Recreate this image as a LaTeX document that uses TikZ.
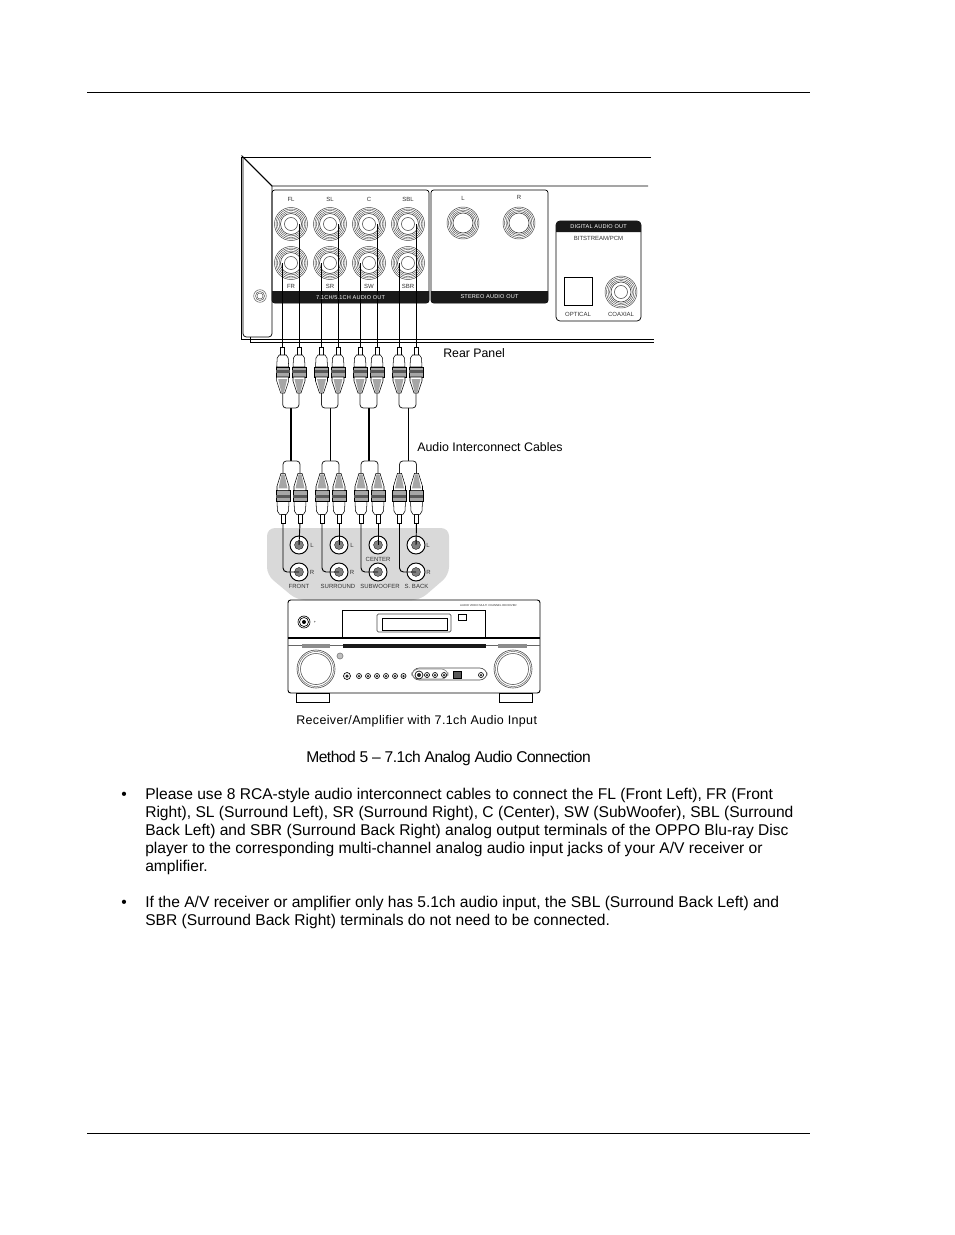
\documentclass[tikz,border=0pt]{standalone}
\usepackage{fontspec}
\setmainfont{Liberation Sans}
\newfontfamily\spaced[LetterSpace=3]{Liberation Sans}
\newfontfamily\tight[LetterSpace=-3.2]{Liberation Sans}
\newfontfamily\wider[LetterSpace=3]{Liberation Sans}
\tikzset{
  thin line/.style={line width=.55pt,draw=black},
  cab/.style={line width=.6pt,draw=black!85,rounded corners=2.5pt},
  lbl/.style={inner sep=0pt,anchor=base west,text=black},
  tiny/.style={inner sep=0pt,anchor=base,font=\fontsize{4.5}{5}\selectfont,text=black!80},
  tinyw/.style={inner sep=0pt,font=\wider\fontsize{4.2}{5}\selectfont,text=white},
  recv/.style={line width=.5pt,draw=black},
  body/.style={inner sep=0pt,anchor=base west,font=\fontsize{11.7}{13}\selectfont,text=black},
  pt/.style={inner sep=0pt,minimum size=0pt}
}
\newcommand{\bigjack}[3]{%
  \node[pt,circle,draw=none,minimum size=24.75pt] (#3) at (#1,#2) {};
  \foreach \r/\w in {16.5/.35,15/.3,13.5/.3,12/.3,10.5/.45,6.5/.4}
    \draw[line width=\w pt,black!75] (#1,#2) circle[radius=\r];}
\newcommand{\plugshape}{%
  \draw[line width=.4pt,fill=white] (-2,0) rectangle (2,8);
  \draw[line width=.4pt,fill=white] (-3.5,8) -- (-5.5,11) -- (-6,20) -- (6,20) -- (5.5,11) -- (3.5,8) -- cycle;
  \draw[line width=.4pt,fill=black!35] (-6.8,20) rectangle (6.8,30);
  \fill[black!65] (-6.8,23) rectangle (6.8,26);
  \draw[line width=.4pt,fill=white] (-6,30) -- (-6,34) -- (-2,46) -- (2,46) -- (6,34) -- (6,30) -- cycle;
  \fill[black!35] (-4.5,32) -- (-1.5,45) -- (1.5,45) -- (4.5,32) -- cycle;
}
\newcommand{\smallbtn}[3]{\draw[recv,fill=white] (#1,#2) circle[radius=#3]; \fill[black!85] (#1,#2) circle[radius=#3*.5];}
\begin{document}
\begin{tikzpicture}[x=.75pt,y=-.75pt]
\useasboundingbox (0,0) rectangle (954,1235);
\fill[white] (0,0) rectangle (954,1235);
% page rules
\coordinate (ruleTopL) at (87,92.7); \coordinate (ruleTopR) at (810,92.7);
\coordinate (ruleBotL) at (87,1133); \coordinate (ruleBotR) at (810,1133);
\draw[line width=.75pt] (ruleTopL) -- (ruleTopR);
\draw[line width=.75pt] (ruleBotL) -- (ruleBotR);
% player chassis
\draw[thin line] (651,157) -- (241,157) -- (241,339) -- (654,339);
\draw[thin line] (250,342) -- (654,342);
\draw[thin line] (243,157) -- (272,186) -- (648,186);
\draw[thin line] (241.5,155.5) -- (272,186);
\draw[thin line,rounded corners=2.5pt] (243,157) -- (243,337) -- (272,337) -- (272,186);
\draw[thin line] (250,337) -- (250,342);
% screw
\foreach \r in {6.3,4.5,3}\draw[line width=.35pt,black!70] (260,296) circle[radius=\r];
% group boxes
\draw[thin line,rounded corners=2pt] (272,190) rectangle (429,303);
\fill[black!90] (272,291) [rounded corners=2pt] -- (272,303) -- (429,303) [sharp corners] -- (429,291) -- cycle;
\draw[thin line,rounded corners=2pt] (431,190) rectangle (548,303);
\fill[black!90] (431,291) [rounded corners=2pt] -- (431,303) -- (548,303) [sharp corners] -- (548,291) -- cycle;
\draw[thin line,rounded corners=3pt] (556,221) rectangle (641,321);
\fill[black!90] (556,232) [rounded corners=3pt] -- (556,221) -- (641,221) [sharp corners] -- (641,232) -- cycle;
\node[tinyw] (tst) at (489.5,297) {STEREO AUDIO OUT};
\node[tinyw] (tdg) at (598.5,226.5) {DIGITAL AUDIO OUT};
\node[tiny] (tbs) at (598.5,240) {BITSTREAM/PCM};
\node[tiny] (tfl) at (291,201) {FL};
\node[tiny] (tsl) at (330,201) {SL};
\node[tiny] (tc)  at (369,201) {C};
\node[tiny] (tsbl) at (408,201) {SBL};
\node[tiny] (tfr) at (291,288) {FR};
\node[tiny] (tsr) at (330,288) {SR};
\node[tiny] (tsw) at (369,288) {SW};
\node[tiny] (tsbr) at (408,288) {SBR};
\node[tiny] (tsl2) at (463,200) {L};
\node[tiny] (tsr2) at (519,199) {R};
\node[tiny] (topt) at (578,316.5) {OPTICAL};
\node[tiny] (tcox) at (621,316.5) {COAXIAL};
% jacks on the player
\bigjack{291}{224}{oFL}\bigjack{330}{224}{oSL}\bigjack{369}{224}{oC}\bigjack{408}{224}{oSBL}
\bigjack{291}{263}{oFR}\bigjack{330}{263}{oSR}\bigjack{369}{263}{oSW}\bigjack{408}{263}{oSBR}
\foreach \x/\n in {463/oL,519/oR}{
  \foreach \r/\w in {16/.35,14.5/.3,13/.3,11.5/.35,10/.45}
    \draw[line width=\w pt,black!75] (\x,223) circle[radius=\r];
}
\draw[line width=.7pt] (564,277) rectangle (592,305);
\foreach \r/\w in {16/.35,14.5/.3,13/.3,11.5/.3,10/.45,6.5/.4}
  \draw[line width=\w pt,black!75] (621,292) circle[radius=\r];
% grey input panel
\fill[black!15,rounded corners=6pt] (267,575) -- (267,528) -- (449,528) -- (449,575) -- (420,600) -- (297,600) -- cycle;
% plugs, upper
\foreach \x/\n in {282.7/a,299/b,321.5/c,338/d,360/e,377/f,399/g,416/h}{
  \begin{scope}[shift={(\x,347)}]\plugshape\end{scope}
  \coordinate (up\n) at (\x,347);
  \coordinate (ut\n) at (\x,393);
}
% plugs, lower
\foreach \x/\n in {283/a,300/b,322/c,339/d,361/e,378/f,399.5/g,416.5/h}{
  \begin{scope}[shift={(\x,523)},yscale=-1.08]\plugshape\end{scope}
  \coordinate (lp\n) at (\x,523);
  \coordinate (lt\n) at (\x,473.5);
}
% wires from jacks to upper plugs
\coordinate (oFRw) at (282.7,263); \coordinate (oFLw) at (299,224);
\coordinate (oSRw) at (321.5,263); \coordinate (oSLw) at (338,224);
\coordinate (oSWw) at (360,263);   \coordinate (oCw) at (377,224);
\coordinate (oSBRw) at (399,263);  \coordinate (oSBLw) at (416,224);
\foreach \s/\e in {oFRw/upa,oFLw/upb,oSRw/upc,oSLw/upd,oSWw/upe,oCw/upf,oSBRw/upg,oSBLw/uph}
  \draw[line width=.7pt] (\s) -- (\e);
\node[tinyw] (t71) at (350.5,297) {7.1CH/5.1CH AUDIO OUT};
% cables
\foreach \xa/\l/\r/\w in {291/a/b/1.3,330/c/d/.65,369/e/f/1.1,408/g/h/.65}{
  \coordinate (jt\l) at (\xa,408);
  \coordinate (jb\l) at (\xa,461);
  \draw[line width=\w pt] (jt\l) -- (jb\l);
  \draw[cab] (ut\l) |- (jt\l) -| (ut\r);
  \draw[cab] (lt\l) |- (jb\l) -| (lt\r);
}
% input jacks
\foreach \x/\n in {299/iFL,339/iSL,378/iC,416/iSBL}{
  \node[pt,circle,minimum size=13.5pt] (\n) at (\x,545) {};
  \draw[line width=.7pt,fill=white] (\x,545) circle[radius=9];
  \draw[line width=.2pt,fill=black!50] (\x,545) circle[radius=4.5];
}
\foreach \x/\n in {299/iFR,339/iSR,378/iSW,416/iSBR}{
  \node[pt,circle,minimum size=13.5pt] (\n) at (\x,572) {};
  \draw[line width=.7pt,fill=white] (\x,572) circle[radius=9];
  \draw[line width=.2pt,fill=black!50] (\x,572) circle[radius=4.5];
}
% wires into receiver inputs
\foreach \p/\q in {lpb/iFL,lpd/iSL,lpf/iC,lph/iSBL}
  \draw[line width=.7pt] (\p) -- (\q.center);
\foreach \p/\q in {lpa/iFR,lpc/iSR,lpe/iSW,lpg/iSBR}
  \draw[line width=.7pt,rounded corners=3pt] (\p) |- (\q.center);
\node[tiny] (lL1) at (312,547) {L};
\node[tiny] (lL2) at (352,547) {L};
\node[tiny] (lL3) at (428,547) {L};
\node[tiny] (lR1) at (312,574.5) {R};
\node[tiny] (lR2) at (352,574.5) {R};
\node[tiny] (lR3) at (428.5,574.5) {R};
\node[tiny] (lcen) at (378,561) {CENTER};
\node[tiny] (lfr) at (299,588.5) {FRONT};
\node[tiny] (lsur) at (338,588.5) {SURROUND};
\node[tiny] (lsub) at (380,588.5) {SUBWOOFER};
\node[tiny] (lsb) at (416.5,588.5) {S. BACK};
% receiver
\draw[recv,line width=.7pt,rounded corners=2pt] (288,600) rectangle (540,693);
\draw[recv] (342,637) -- (342,610) -- (485,610) -- (485,637);
\draw[recv,rounded corners=1pt,black!70] (377,614) rectangle (451,632);
\draw[recv,line width=.6pt] (382,618) rectangle (447,630);
\draw[recv] (458,614) rectangle (466,620.5);
\draw[line width=1.5pt] (288,637.5) -- (540,637.5);
\draw[recv,black!60] (288,645.5) -- (540,645.5);
\fill[black!45] (302,644) rectangle (330,647.5);
\fill[black!45] (498,644) rectangle (527,647.5);
\fill[black!90] (343,643.5) rectangle (486,647.5);
\foreach \r in {6,4.5}\draw[recv] (304,622) circle[radius=\r];
\fill (304,622) circle[radius=2];
\node[inner sep=0pt,font=\fontsize{2.8}{3}\selectfont] (plus) at (315,622) {+};
\node[inner sep=0pt,anchor=east,font=\fontsize{2.1}{3}\selectfont,text=black!80] (rtit) at (517,606) {AUDIO VIDEO MULTI CHANNEL RECEIVER};
\foreach \x in {316,513}{
  \foreach \r/\w in {19/.45,17.5/.3,15.5/.4}\draw[line width=\w pt,black!70] (\x,669) circle[radius=\r];
}
\draw[recv,black!50,fill=black!25] (340,656) circle[radius=3];
\smallbtn{347}{676}{3.5}
\foreach \x in {359,368,377,386,395,403.5}{\smallbtn{\x}{676}{2.5}}
\draw[recv,black!70,rounded corners=5.5pt] (412,668) rectangle (487,680);
\draw[recv,black!45,rounded corners=5pt] (412,669) rectangle (448,679);
\smallbtn{419}{675}{4}
\smallbtn{435}{675}{2.5}
\smallbtn{427}{675}{2.5}
\smallbtn{444}{675}{2.5}
\smallbtn{481}{675}{2.5}
\draw[recv,fill=black!65] (453,671.5) rectangle (461,678);
\draw[recv,line width=.6pt] (296,693) rectangle (329,702);
\draw[recv,line width=.6pt] (499,693) rectangle (532,702);
% texts
\node[lbl,font=\fontsize{9.25}{12}\selectfont] (rp) at (443,357) {Rear Panel};
\node[lbl,font=\fontsize{9.3}{12}\selectfont] (aic) at (417,451) {Audio Interconnect Cables};
\node[lbl,font=\spaced\fontsize{9.35}{12}\selectfont] (rec) at (296,724.5) {Receiver/Amplifier with 7.1ch Audio Input};
\node[lbl,font=\tight\fontsize{11.7}{13}\selectfont] (cp) at (306,762) {Method 5 – 7.1ch Analog Audio Connection};
\node[body] (b1) at (121,799.5) {•};
\node[body] (l1) at (145,799.5) {Please use 8 RCA-style audio interconnect cables to connect the FL (Front Left), FR (Front};
\node[body] (l2) at (145,817.5) {Right), SL (Surround Left), SR (Surround Right), C (Center), SW (SubWoofer), SBL (Surround};
\node[body] (l3) at (145,835.5) {Back Left) and SBR (Surround Back Right) analog output terminals of the OPPO Blu-ray Disc};
\node[body] (l4) at (145,853.5) {player to the corresponding multi-channel analog audio input jacks of your A/V receiver or};
\node[body] (l5) at (145,871.5) {amplifier.};
\node[body] (b2) at (121,907.5) {•};
\node[body] (l6) at (145,907.5) {If the A/V receiver or amplifier only has 5.1ch audio input, the SBL (Surround Back Left) and};
\node[body] (l7) at (145,925.5) {SBR (Surround Back Right) terminals do not need to be connected.};
\end{tikzpicture}
\end{document}
